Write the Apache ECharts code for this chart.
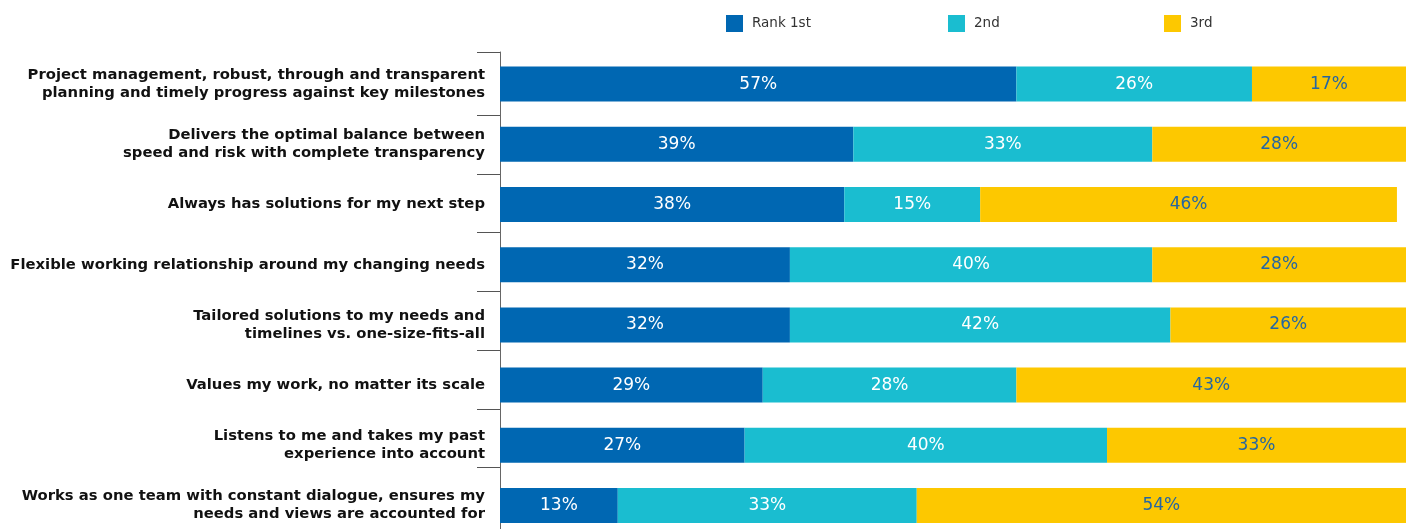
<!DOCTYPE html>
<html>
<head>
<meta charset="utf-8">
<script src="https://cdn.jsdelivr.net/npm/echarts@6/dist/echarts.min.js"></script>
<style>
  html, body { margin: 0; padding: 0; background: #ffffff; }
  #chart { width: 1406px; height: 529px; }
</style>
</head>
<body>
<div id="chart"></div>
<script>
// Survey attributes, ranked 1st / 2nd / 3rd (share of respondents, %)
const categories = [
  "Project management, robust, through and transparent\nplanning and timely progress against key milestones",
  "Delivers the optimal balance between\nspeed and risk with complete transparency",
  "Always has solutions for my next step",
  "Flexible working relationship around my changing needs",
  "Tailored solutions to my needs and\ntimelines vs. one-size-fits-all",
  "Values my work, no matter its scale",
  "Listens to me and takes my past\nexperience into account",
  "Works as one team with constant dialogue, ensures my\nneeds and views are accounted for"
];
const seriesNames = ["Rank 1st", "2nd", "3rd"];
const rank1 = [57, 39, 38, 32, 32, 29, 27, 13];
const rank2 = [26, 33, 15, 40, 42, 28, 40, 33];
const rank3 = [17, 28, 46, 28, 26, 43, 33, 54];

const colors = ["#0067b2", "#1abdd0", "#fdc800"];
const labelColors = ["#ffffff", "#ffffff", "#2566a2"];
const values = [rank1, rank2, rank3];
const legendLeft = [726, 948, 1164];

const font = "DejaVu Sans, Verdana, sans-serif";

// Separator ticks on the left axis line (pixel offsets from the axis top)
const tickFirstGap = 63.3;
const tickStep = 58.7;
const separatorTicks = [0.3];
for (let k = 0; k < categories.length - 1; k++) {
  separatorTicks.push(tickFirstGap + tickStep * k);
}

const chart = echarts.init(document.getElementById("chart"), null, { renderer: "canvas" });

chart.setOption({
  animation: false,
  color: colors,
  legend: seriesNames.map((name, i) => ({
    data: [name],
    left: legendLeft[i],
    top: 15,
    itemWidth: 17,
    itemHeight: 17,
    itemGap: 0,
    icon: "rect",
    textStyle: { fontFamily: font, fontSize: 13.5, color: "#333333", padding: [0, 0, 0, 4] },
    padding: 0
  })),
  grid: [
    // bars + category labels (the last row runs slightly past the bottom edge)
    { left: 500, right: 0, top: 54, height: 481.6, containLabel: false, outerBoundsMode: "none" },
    // axis line with separator ticks
    { left: 500, width: 1, top: 52, bottom: 0, containLabel: false, outerBoundsMode: "none" }
  ],
  xAxis: [
    { type: "value", gridIndex: 0, min: 0, max: 100, show: false },
    { type: "value", gridIndex: 1, min: 0, max: 1, show: false }
  ],
  yAxis: [
    {
      type: "category",
      gridIndex: 0,
      inverse: true,
      data: categories,
      axisLine: { show: false },
      axisTick: { show: false },
      axisLabel: {
        margin: 15,
        fontFamily: font,
        fontSize: 14.8,
        fontWeight: "bold",
        color: "#111111",
        lineHeight: 18,
        align: "right"
      },
      splitLine: { show: false }
    },
    {
      type: "value",
      gridIndex: 1,
      inverse: true,
      min: 0,
      max: 477,
      position: "left",
      axisLine: { show: true, lineStyle: { color: "#666666", width: 1 } },
      axisTick: {
        show: true,
        length: 23,
        customValues: separatorTicks,
        lineStyle: { color: "#555555", width: 1 }
      },
      axisLabel: { show: false },
      splitLine: { show: false }
    }
  ],
  series: seriesNames.map((name, i) => ({
    name: name,
    type: "bar",
    stack: "total",
    xAxisIndex: 0,
    yAxisIndex: 0,
    barWidth: 35,
    data: values[i],
    itemStyle: { color: colors[i] },
    label: {
      show: true,
      position: "inside",
      formatter: "{c}%",
      fontFamily: font,
      fontSize: 17,
      color: labelColors[i]
    }
  }))
});
</script>
</body>
</html>
